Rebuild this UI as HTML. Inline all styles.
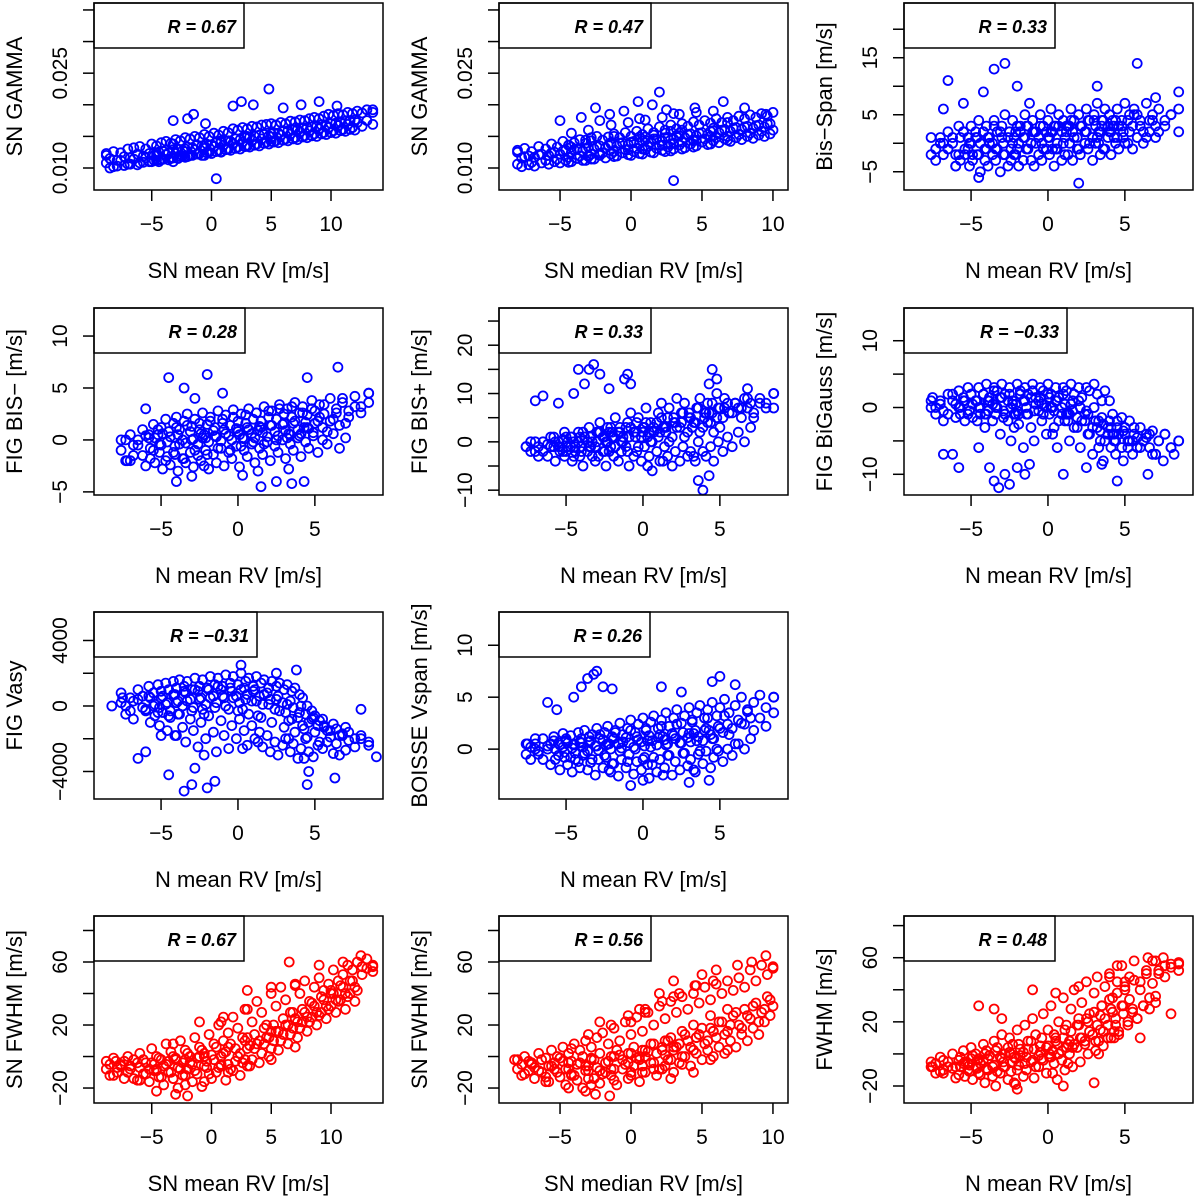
<!DOCTYPE html>
<html><head><meta charset="utf-8">
<style>
html,body{margin:0;padding:0;background:#fff;}
svg{display:block;font-family:"Liberation Sans",Arial,sans-serif;}
</style></head>
<body>
<svg id="fig" width="1200" height="1201" viewBox="0 0 1200 1201" xmlns="http://www.w3.org/2000/svg"></svg>
<script>
// ---- shared x samples ----
const snMeanX = [-8.8,-8.2,-7.6,-7.0,-6.5,-6.0,-5.5,-5.0,-4.6,-4.2,-3.8,-3.4,-3.0,-2.6,-2.2,-1.8,-1.4,-1.0,-0.6,-0.2,0.2,0.6,1.0,1.4,1.8,2.2,2.6,3.0,3.4,3.8,4.2,4.6,5.0,5.4,5.8,6.2,6.6,7.0,7.4,7.8,8.2,8.6,9.0,9.4,9.8,10.2,10.6,11.0,11.4,11.8,12.2,12.6,13.0,13.5,-3.2,0.8,2.8];
const snMeanX2 = [-8.5,-7.9,-7.3,-6.8,-6.2,-5.7,-5.2,-4.8,-4.4,-4.0,-3.6,-3.2,-2.8,-2.4,-2.0,-1.6,-1.2,-0.8,-0.4,0.0,0.4,0.8,1.2,1.6,2.0,2.4,2.8,3.2,3.6,4.0,4.4,4.8,5.2,5.6,6.0,6.4,6.8,7.2,7.6,8.0,8.4,8.8,9.2,9.6,10.0,10.4,10.8,11.2,11.6,12.0,-4.6,-2.2,-0.6,1.4,3.0,5.0,7.0];
const snMedX = [-8.0,-7.5,-7.0,-6.5,-6.0,-5.6,-5.2,-4.8,-4.4,-4.0,-3.6,-3.2,-2.8,-2.4,-2.0,-1.6,-1.2,-0.8,-0.4,0.0,0.4,0.8,1.2,1.6,2.0,2.4,2.8,3.2,3.6,4.0,4.4,4.8,5.2,5.6,6.0,6.4,6.8,7.2,7.6,8.0,8.4,8.8,9.2,9.6,10.0,-4.2,-3.0,-1.4,-0.2,1.0,2.2,3.4,4.6,5.8,-2.2,0.6,3.0];
const snMedX2 = [-7.7,-7.2,-6.8,-6.3,-5.8,-5.4,-5.0,-4.6,-4.2,-3.8,-3.4,-3.0,-2.6,-2.2,-1.8,-1.4,-1.0,-0.6,-0.2,0.2,0.6,1.0,1.4,1.8,2.2,2.6,3.0,3.4,3.8,4.2,4.6,5.0,5.4,5.8,6.2,6.6,7.0,7.4,7.8,8.2,8.6,9.0,9.4,9.8,-4.4,-3.2,-1.2,0.0,1.6,2.8,3.6,4.4,5.6,6.8,-2.8,0.8,2.4];
const nMeanX = [-7.6,-7.0,-6.5,-6.2,-5.8,-5.5,-5.2,-5.0,-4.7,-4.5,-4.2,-4.0,-3.8,-3.5,-3.3,-3.0,-2.8,-2.5,-2.3,-2.0,-1.8,-1.5,-1.3,-1.0,-0.8,-0.5,-0.3,0.0,0.2,0.5,0.7,1.0,1.2,1.5,1.7,2.0,2.2,2.5,2.7,3.0,3.2,3.5,3.7,4.0,4.2,4.5,4.8,5.0,5.3,5.6,6.0,6.4,6.8,7.2,7.6,8.0,8.5];
const nMeanX2 = [-7.3,-6.8,-6.0,-5.7,-5.4,-5.1,-4.9,-4.6,-4.4,-4.1,-3.9,-3.6,-3.4,-3.1,-2.9,-2.6,-2.4,-2.1,-1.9,-1.6,-1.4,-1.1,-0.9,-0.6,-0.4,-0.1,0.1,0.4,0.6,0.9,1.1,1.4,1.6,1.9,2.1,2.4,2.6,2.9,3.1,3.4,3.6,3.9,4.1,4.4,4.6,4.9,5.2,5.5,5.8,6.2,6.6,7.0,-2.2,0.3,1.3,3.3,4.3];

// ---- panel 1: SN GAMMA (x1e-3) vs SN mean RV ----
const p1A = [12.3,12.6,12.4,13.0,13.2,13.4,13.0,13.8,13.5,14.0,14.2,13.9,14.5,14.3,14.8,14.6,15.0,14.8,15.3,15.0,15.5,15.2,15.8,15.6,16.2,16.0,16.4,16.2,16.6,16.5,16.8,16.9,17.0,16.8,17.2,17.0,17.4,17.3,17.6,17.5,17.8,18.0,17.8,18.2,18.5,18.3,18.6,18.4,18.8,18.6,19.0,18.7,19.2,18.8,13.8,14.3,15.0];
const p1B = [10.0,10.3,10.4,10.6,10.5,10.9,11.0,11.2,11.0,11.4,11.3,11.6,11.5,11.9,11.8,12.0,12.2,12.0,12.4,12.3,12.6,12.5,12.9,12.8,13.1,13.0,13.4,13.3,13.6,13.5,13.9,13.8,14.1,14.0,14.4,14.3,14.6,14.5,14.9,14.8,15.1,15.0,15.4,15.3,15.6,15.5,15.9,15.8,16.1,16.0,11.2,11.7,12.0,13.0,13.5,14.2,14.8];
const p1C = [11.5,11.2,11.8,11.6,12.2,11.9,12.3,12.0,12.5,12.6,12.4,12.9,13.0,12.8,13.3,13.2,13.6,13.5,13.8,13.7,14.0,14.1,14.3,14.2,14.6,14.5,14.8,14.9,15.0,15.2,15.3,15.1,15.6,15.5,15.8,15.9,16.0,16.1,16.3,16.4,16.5,16.6,16.8,16.7,17.0,17.1,17.2,17.4,17.5,17.6,12.4,13.0,13.5,14.3,15.0,15.4,16.3];
const p1D = [10.8,10.2,11.2,10.6,11.4,10.8,11.6,11.0,11.9,11.3,12.1,11.5,12.3,11.8,12.6,12.0,12.9,12.3,13.1,12.5,13.4,12.8,13.6,13.0,13.9,13.3,14.1,13.6,14.4,13.8,14.6,14.1,14.9,14.3,15.2,14.6,15.4,14.8,15.7,15.1,15.9,15.4,16.2,15.6,16.4,15.9,16.7,16.1,16.9,16.4,17.2,16.6,17.5,16.9,11.0,12.6,13.4];
const p1OX = [2.5,4.8,-1.5,0.4,-3.2,3.5,1.8,-2.0,7.5,6.0,9.0,10.5,13.5,-8.8,-0.5];
const p1OY = [20.5,22.5,18.5,8.3,17.5,20.0,19.8,17.8,20.0,19.5,20.5,19.8,19.2,12.0,17.0];

// ---- panel 2: SN GAMMA vs SN median RV ----
const p2A = [12.8,13.1,12.6,13.4,13.0,13.8,13.3,14.2,13.6,14.0,14.5,13.9,14.3,15.0,14.4,14.9,15.4,14.8,15.6,15.0,15.8,15.3,16.2,15.6,16.5,16.0,16.8,16.2,17.0,16.6,17.3,16.8,17.5,17.1,17.8,17.2,18.0,17.5,18.2,17.8,18.4,18.0,18.6,18.2,18.8,15.5,16.0,16.8,17.2,17.6,18.0,18.5,18.8,19.0,17.5,17.8,18.6];
const p2B = [10.2,10.5,10.3,10.8,10.6,11.0,10.8,11.2,11.0,11.5,11.2,11.8,11.4,12.0,11.6,12.2,11.9,12.4,12.1,12.6,12.3,12.9,12.5,13.1,12.8,13.3,13.0,13.6,13.2,13.8,13.5,14.1,13.7,14.3,14.0,14.6,14.2,14.8,14.5,15.0,14.7,15.2,15.0,15.4,10.9,11.2,11.8,12.0,12.4,12.7,13.0,13.3,13.8,14.4,11.4,12.2,12.6];
const p2C = [11.6,11.9,11.7,12.2,12.0,12.5,12.2,12.8,12.5,13.0,12.7,13.3,13.0,13.5,13.2,13.8,13.5,14.0,13.7,14.2,13.9,14.4,14.1,14.6,14.3,14.9,14.6,15.1,14.8,15.4,15.1,15.6,15.3,15.9,15.6,16.1,15.8,16.4,16.1,16.6,16.3,16.8,16.5,17.0,13.6,14.4,15.0,14.0,15.2,15.8,16.0,14.5,15.0,17.2,14.8,13.0,15.5];
const p2D = [10.6,11.8,10.9,12.1,11.2,12.4,11.4,12.7,11.7,12.9,11.9,13.1,12.2,13.4,12.4,13.6,12.6,13.9,12.9,14.1,13.1,14.3,13.4,14.6,13.6,14.8,13.8,15.1,14.1,15.3,14.3,15.5,14.6,15.8,14.8,16.0,15.0,16.3,15.3,16.5,15.5,16.7,15.8,17.0,16.0,13.3,12.0,14.0,12.9,14.9,13.6,15.5,14.4,16.3,12.3,14.9,13.9];
const p2OX = [2.0,-1.5,-2.5,3.0,1.5,-0.5,-5.0,9.5,8.0,6.5,-8.0,4.5,-3.5,0.5,2.5];
const p2OY = [22.0,18.5,19.5,8.0,20.0,19.0,17.5,18.5,19.5,20.5,12.5,19.5,18.0,20.5,19.2];

// ---- panel 3: Bis-Span vs N mean RV ----
const p3A = [1,0,2,1,3,2,1,3,2,4,2,3,1,4,2,3,5,2,4,3,2,5,3,4,2,5,3,4,6,3,5,4,3,6,4,5,3,6,4,5,7,4,6,5,3,6,4,7,5,6,4,7,5,6,4,5,6];
const p3B = [-3,-2,-4,-3,-2,-4,-3,-2,-5,-3,-4,-2,-3,-5,-2,-4,-3,-2,-4,-3,-1,-3,-4,-2,-3,-1,-2,-4,-1,-3,-2,0,-3,-1,-2,0,-1,-3,0,-2,-1,1,-2,0,-1,1,0,-1,1,0,2,1,-2,-1,-2,0,1];
const p3C = [-1,0,-2,1,-1,0,-2,1,0,-1,1,0,-1,2,0,1,-1,2,0,1,3,0,2,1,0,2,1,3,0,2,1,3,2,1,3,2,4,1,3,2,4,3,2,4,3,2,4,3,5,2,4,3,1,2,3,2,3];
const p3D = [-2,1,-1,0,-2,2,-1,0,1,-2,2,-1,0,3,-1,1,-2,2,0,-1,3,1,-1,2,0,3,-1,1,2,-1,3,0,2,4,1,-1,3,2,0,4,1,3,-1,2,4,1,3,0,2,5,3,1,4,2,3,5,2];
const p3OX = [-6.5,-5.5,-3.5,-2.8,-4.2,-1.2,5.8,3.2,-6.8,-4.5,-6.0,-2.0,2.0,7.0,8.5];
const p3OY = [11,7,13,14,9,7,14,10,6,-6,-4,10,-7,8,9];

// ---- panel 4: FIG BIS- ----
const p4A = [0,0.5,-0.5,1,0.2,1.5,0.5,1.2,2,0.8,1.6,2.2,1,1.8,2.5,1.3,2,1,2.6,1.5,2.2,1.2,2.8,1.6,2.4,1.4,2.9,1.8,2.5,1.6,3,2,2.6,1.8,3.2,2.2,2.8,2,3.4,2.5,3,2.2,3.6,2.6,3.2,2.4,3.8,2.8,3.4,2.5,4,3,3.6,2.8,4.2,3.2,4.5];
const p4B = [-2,-1.5,-2.5,-1.8,-2.2,-1.2,-2.8,-1.6,-2.4,-1.4,-3,-1.8,-2.2,-1.2,-2.6,-1.5,-2,-1,-2.8,-1.4,-2.2,-0.8,-2.5,-1.2,-1.8,-0.6,-2.6,-1,-1.6,-0.4,-2.2,-0.8,-1.4,-0.2,-2,-0.6,-1.2,0,-1.8,-0.4,-1,0.2,-1.6,-0.2,-0.8,0.4,-1.2,0,-0.4,0.6,-0.8,0.2,-2.5,-3.4,-3,-2.8,-4];
const p4C = [0,-0.5,0.4,-0.8,0.2,-0.4,0.6,-0.2,0.3,-0.6,0.5,0,-0.3,0.8,0.1,-0.4,0.6,0.2,-0.2,0.9,0.3,-0.1,1,0.4,0,1.1,0.5,0.1,1.2,0.6,0.2,1.3,0.7,0.3,1.4,0.8,0.4,1.5,0.9,0.5,1.6,1,0.6,1.7,1.1,0.7,1.8,1.2,0.8,2,1.4,1.6,0.5,0.2,0.9,0.6,1.2];
const p4D = [-1,-2,0,-1.5,0.5,-1,1,-0.5,-2,0.8,-1.2,1.2,-0.4,-1.8,1.4,0,-1,1.6,0.2,-1.4,1.8,0.4,-0.8,2,0.6,-1,2.2,0.8,-0.6,2.4,1,-0.2,2.6,1.2,-0.4,2.8,1.4,0,3,1.6,0.2,3.2,1.8,0.4,2.6,1.2,3,1.6,2.2,3.4,1.8,2.6,4,2.2,3.2,2.6,3.6];
const p4OX = [-4.5,-3.5,-2,-1,-3,-6,-7.2,2.5,4.5,6.5,8.5,-4,1.5,3.5,-2.8];
const p4OY = [6,5,6.3,4.5,-3.5,3,-2,-4,6,7,4.5,-4,-4.5,-4.2,4];

// ---- panel 5: FIG BIS+ ----
const p5A = [-1,0,-2,-0.5,1,-1,0.5,-2,1,0,2,-1,1,3,0,2,4,1,3,2,5,3,1,4,6,2,5,3,7,4,2,6,8,3,7,5,9,4,8,6,3,7,9,5,8,6,10,7,9,6,8,7,9,5,8,7,10];
const p5B = [-2,-3,-1,-4,-2,-3,-1,-4,-2,-3,-5,-2,-1,-4,-3,-2,-5,-1,-3,-4,-2,-1,-5,-3,-2,-4,-1,-3,-6,-2,-4,-1,-3,-5,-2,-4,-1,-3,-2,-4,0,-2,-3,-1,-4,0,-2,1,-1,2,0,3,-2,-5,-4,-3,-7];
const p5C = [0,-1,1,0,-1,2,0,1,-1,1,2,0,1,-1,2,1,0,3,1,2,0,3,1,2,4,1,3,2,0,4,2,3,5,1,4,3,6,2,5,4,7,3,6,4,2,7,5,8,6,7,9,8,2,1,3,4,6];
const p5D = [-1,-2,0,-3,-1,0,-2,1,-1,-3,0,-2,1,-1,-3,0,2,-2,0,1,-1,2,0,-2,3,1,-1,2,4,0,3,1,5,2,0,4,3,6,1,5,3,7,2,6,4,8,5,3,7,6,8,5,7,6,9,8,7];
const p5OX = [-3.5,-3.2,-2.8,-4.2,-3.8,-1.2,-1,-0.8,-2.2,4.5,4.3,4.8,-7,-6.5,6.8,8.5,3.6,3.9,-5.5,-4.5];
const p5OY = [15,16,14,15,12,13,14,12,11,15,12,13,8.5,9.5,11,10,-8,-10,8,10];

// ---- panel 6: FIG BiGauss ----
const p6A = [1,0.5,2,1,2.5,1.5,3,2,1,3,2,3.5,1.5,3,2.5,3.5,2,3,1,3.5,2.5,3,2,3.5,1.5,3,2.5,3.5,2,3,1.5,3,2.5,3.5,2,3,1.5,3,2.5,3.5,2,1,2.5,1,-1,-2,-1.5,-3,-2,-4,-3,-4.5,-3.5,-5,-4,-6,-5];
const p6B = [-1,-2,-1.5,-1,-2,-0.5,-1.5,-2,-1,-3,-0.5,-2,-1,-4,-1.5,-2,-5,-1,-2.5,-6,-1,-3,-5,-0.5,-2,-4,-1,-3,-6,-1,-2,-5,-0.5,-3,-6,-1,-4,-7,-2,-5,-8,-3,-6,-7,-4,-8,-5,-7,-6,-5,-4,-7,-3,-4,-2,-6,-5];
const p6C = [0,-0.5,0.5,0,1,-0.5,0.5,1,0,-1,1,0.5,0,1.5,-0.5,1,0,0.5,-1,1,0,1.5,-0.5,1,0.5,0,1.5,-0.5,1,0,0.5,-1,1,-1.5,0,-2,-1,-3,-2,-3.5,-2.5,-4,-3,-5,-4,-3.5,-6,-5,-4.5,-5,-6,-7,-1,0,-1,-2,-4];
const p6D = [0,1,-1,2,0,1,-1,2,1,0,2,-1,1,2.5,0,1.5,-1,2,0.5,-0.5,2,1,-1,2.5,0.5,1.5,-1,2,0,1,-2,2,-1,0.5,-3,1,-2,-0.5,-4,0,-3,-1.5,-5,-2,-4,-3,-6,-4,-5,-3,-6,-4,-7,-5,-4,-6,-5];
const p6OX = [-3.5,-3.2,-2.8,-2.5,-2,-1.5,-1.2,-6.2,-5.8,-6.8,-7.5,-4.5,1,2.5,3.5,4.5,6.5,7.5,8.2,-3.8];
const p6OY = [-11,-12,-10,-11.5,-9,-10,-8.5,-7,-9,-7,1.5,-6,-10,-9,-8.5,-11,-10,-8,-7,-9];

// ---- panel 7: FIG Vasy ----
const p7A = [800,500,1000,600,1200,800,1300,900,1400,1000,1500,1100,1600,1200,1500,1000,1700,1200,1600,1100,1800,1300,1700,1200,1900,1400,1800,1300,2000,1500,1700,1200,1800,1400,1600,1100,1500,1200,1400,1000,1300,900,1100,700,500,0,-300,-600,-900,-1200,-1500,-1400,-1800,-1600,-2000,-1800,-2400];
const p7B = [-500,-800,-300,-1000,-600,-1200,-400,-1500,-700,-1800,-500,-1300,-2200,-800,-1500,-2500,-1000,-2000,-600,-1600,-2800,-900,-1800,-2600,-1200,-2000,-800,-1500,-2400,-1200,-2000,-1600,-2500,-1800,-2800,-2200,-3000,-2400,-2000,-2800,-2300,-3200,-2600,-2000,-2800,-3100,-2400,-2600,-2200,-2900,-3000,-2700,-3000,-2600,-2200,-2000,-3200];
const p7C = [0,300,-200,500,100,-100,600,200,-300,700,300,0,800,400,-100,900,500,100,1000,600,200,1000,500,-200,900,600,200,1100,700,300,1000,600,100,800,400,-200,600,200,-400,300,-100,-700,0,-500,-1000,-700,-1200,-800,-1500,-1100,-1800,-1300,-500,-200,-600,-900,-1400];
const p7D = [200,-300,400,-100,600,0,-400,500,100,-600,700,200,-500,900,300,-300,1000,400,-200,1100,500,-100,1200,600,0,1100,500,-300,1000,400,-500,900,300,-700,700,100,-1000,400,-300,-1300,100,-800,-1600,-400,-1200,-1900,-800,-1600,-2200,-1300,-1900,-2300,-1700,-2100,-2500,-2000,-2200];
const p7OX = [-3.5,-4.5,-3,-2,-2.8,-1.5,-6,-6.5,-5,-4,4.5,4.6,6.3,8.0,9.0,0.2,2.5,-7.5,-8.2,3.8];
const p7OY = [-5200,-4200,-4800,-5000,-3800,-4600,-2800,-3200,-1800,-1800,-4800,-4000,-4400,-200,-3100,2500,2000,500,0,2200];

// ---- panel 8: BOISSE Vspan ----
const p8A = [0.5,0,1,0.3,1.2,0.6,1.5,0.8,1.3,0.5,1.6,1,1.8,0.7,1.4,2,1,1.6,2.2,1.2,1.8,2.5,1.4,2,2.8,1.6,2.4,3,1.8,2.6,3.2,2,2.8,3.5,2.2,3,3.8,2.5,3.2,4,2.8,3.5,4.2,3,3.8,4.5,3.2,4,4.8,3.5,4.2,5,3.8,4.5,5.2,4,5];
const p8B = [-1,-0.5,-1.5,-1,-2,-0.8,-1.5,-2.2,-1,-1.8,-0.6,-2,-1.3,-2.5,-1,-1.8,-0.8,-2.2,-1.4,-2.6,-1,-1.8,-0.5,-2.4,-1.2,-2,-0.8,-2.8,-1.5,-2.2,-1,-1.8,-0.6,-2.5,-1.2,-2,-0.4,-1.6,-1,-2.2,-0.5,-1.4,-0.2,-1.8,-0.8,-0.2,-1.2,0,-0.6,0.5,0,1,-2,-1.5,-2.5,-2,-3];
const p8C = [0.2,-0.2,0.5,0,0.4,-0.3,0.6,0.1,-0.4,0.7,0.2,-0.2,0.8,0.3,-0.1,0.9,0.4,0,1,0.5,0.1,1.1,0.6,0.2,1.2,0.7,0.3,1.3,0.8,0.4,1.4,0.9,0.5,1.5,1,0.6,1.6,1.1,0.7,1.8,1.2,0.8,2,1.4,1,2.2,1.6,2.4,2,2.8,2.4,3,0.5,0.8,1.2,1.5,1.8];
const p8D = [-0.5,0.5,-1,0,0.8,-0.6,0.2,1,-0.8,0.4,-1.2,0.6,-0.4,1.2,-1,0.3,1.4,-0.6,0.5,-1.4,1.6,-0.2,0.7,-1.2,1.8,0,0.9,-1,2,0.2,-0.8,1.1,2.2,0.4,-0.6,1.3,2.4,0.6,-0.4,1.5,2.6,0.8,-0.2,1.8,3,1,0,2,3.2,1.4,0.5,2.5,3.6,1.8,3,2.2,3.5];
const p8OX = [-4.5,-4,-3.6,-3.2,-3,-2.6,-6.2,-5.6,-7,-7.5,4.5,5,6,8.5,-0.8,1.2,2.5,-2,0,3];
const p8OY = [5,6,6.8,7.2,7.5,6,4.5,3.8,1,0.5,6.5,7,6.2,5,-3.5,6,5.5,5.8,-3,-3.2];

// ---- panel 10: SN FWHM vs SN mean RV ----
const p10A = [-3,-1,-5,0,-2,2,-4,5,0,-2,8,3,-1,10,4,0,12,6,2,14,8,20,10,15,25,18,12,30,22,35,28,20,40,32,44,36,28,45,40,48,35,44,50,42,46,55,48,52,58,55,60,57,62,58,8,22,30];
const p10B = [-12,-10,-14,-8,-15,-11,-16,-9,-13,-18,-10,-14,-20,-12,-8,-16,-11,-19,-7,-14,-10,-5,-15,-8,-3,-12,-2,-6,5,-4,8,0,10,4,14,8,18,12,22,16,25,20,28,24,32,28,36,30,40,35,-22,-18,-16,-10,-6,-2,6];
const p10C = [-5,-7,-3,-6,-4,-2,-8,-5,-1,-6,-3,0,-7,-4,2,-5,-1,4,-3,1,6,0,3,8,5,2,10,7,14,10,18,12,20,16,24,20,28,22,30,25,34,28,38,32,42,36,45,40,48,44,-8,-2,0,6,12,16,24];
const p10D = [-8,-12,-6,-10,-14,-7,-11,-4,-9,-13,-5,-10,-2,-8,-12,-4,-9,0,-6,-11,-2,-7,2,-5,-9,0,-4,5,-2,8,2,12,5,16,10,20,14,24,18,28,22,32,26,36,30,40,35,44,38,48,42,52,56,54,-14,-6,-2];
const p10OX = [-2,-3,-6,1,5,7,9,11,12.5,13.5,-8,3,6.5,10,-1];
const p10OY = [-25,-24,-15,25,44,46,58,60,64,57,-3,42,60,40,22];

// ---- panel 11: SN FWHM vs SN median RV ----
const p11A = [-2,0,-4,2,-1,4,0,6,2,8,4,10,6,12,15,8,18,10,22,14,25,16,28,20,32,24,35,28,38,30,40,34,44,36,46,40,48,42,50,44,55,48,58,52,56,5,14,20,26,30,35,40,45,48,22,30,38];
const p11B = [-12,-9,-14,-10,-16,-8,-13,-18,-11,-15,-20,-9,-14,-17,-10,-12,-18,-8,-14,-6,-16,-10,-4,-12,-8,-2,-10,-4,0,-6,2,-2,4,0,6,2,10,6,14,10,18,14,22,26,-20,-22,-15,-12,-8,-14,-5,-10,-2,4,-18,-10,-6];
const p11C = [-5,-3,-7,-2,-6,-4,-1,-8,-3,-5,0,-6,-2,2,-4,0,4,-2,2,6,0,4,8,2,6,10,4,8,14,6,12,18,10,16,22,14,20,28,18,26,32,22,30,36,-4,-6,0,2,8,12,16,20,26,30,-2,4,10];
const p11D = [-8,-11,-5,-9,-13,-6,-10,-3,-8,-12,-4,-9,-1,-7,-11,-3,-8,1,-5,-10,-1,-6,3,-4,-8,1,-2,6,0,10,4,14,8,18,12,22,16,26,20,30,24,34,28,38,32,-12,-14,-8,-4,0,4,8,12,16,-9,-2,6];
const p11OX = [-2.5,-1.5,-6,1,3,4.5,6,7.5,8.5,9.5,10,-8.2,2,5,0];
const p11OY = [-24,-25,-16,28,48,45,55,58,60,64,57,-2,40,52,22];

// ---- panel 12: FWHM vs N mean RV ----
const p12A = [-5,-2,-8,0,-4,2,-6,4,0,-3,6,2,-1,8,4,12,0,10,6,15,3,18,8,22,12,5,25,15,30,10,20,35,18,28,40,22,32,45,25,38,48,30,42,50,35,45,55,40,48,58,45,52,58,50,55,54,57];
const p12B = [-12,-10,-15,-8,-14,-11,-16,-9,-13,-18,-10,-14,-20,-12,-8,-16,-11,-19,-7,-14,-10,-5,-15,-8,-3,-12,-2,-6,-16,-4,-10,0,-8,4,-5,8,0,12,2,15,5,18,10,22,14,25,18,28,22,30,35,32,-18,-12,-6,0,10];
const p12C = [-6,-4,-8,-2,-5,-7,-1,-4,-6,0,-3,-8,2,-2,-5,4,0,-3,6,1,-2,8,3,-1,10,4,0,12,6,2,15,8,4,18,10,6,20,12,8,24,14,10,28,18,12,30,20,26,22,30,28,36,-2,2,6,8,14];
const p12D = [-8,-11,-5,-9,-13,-6,-10,-3,-8,-12,-4,-9,-1,-7,-11,-3,-8,1,-5,-10,-1,-6,3,-4,-8,1,-4,5,-2,8,0,10,4,14,6,18,10,22,14,26,18,30,22,34,26,38,30,42,34,46,40,50,44,52,48,56,52];
const p12OX = [-7.5,-6.8,-4.5,-3.5,-2,1,3,4,5,6.5,7,7.5,8.5,-1,0.5,2,4.5,-3,6,8];
const p12OY = [-8,-12,30,28,-22,-20,-18,48,45,60,58,60,56,40,38,42,55,22,10,25];

// ---- tick arrays ----
const snMeanTicks = [-5,0,5,10];
const snMeanTickLabels = ["\u22125","0","5","10"];
const snMedTicks = [-5,0,5,10];
const snMedTickLabels = ["\u22125","0","5","10"];
const nMeanTicks = [-5,0,5];
const nMeanTickLabels = ["\u22125","0","5"];
const gammaTicks = [10,15,20,25,30,35];
const gammaTickLabels = ["0.010","","","0.025","",""];
const bisSpanTicks = [-5,0,5,10,15,20];
const bisSpanTickLabels = ["\u22125","","5","","15",""];
const bisMinusTicks = [-5,0,5,10];
const bisMinusTickLabels = ["\u22125","0","5","10"];
const bisPlusTicks = [-10,-5,0,5,10,15,20,25];
const bisPlusTickLabels = ["\u221210","","0","","10","","20",""];
const biGaussTicks = [-10,-5,0,5,10];
const biGaussTickLabels = ["\u221210","","0","","10"];
const vasyTicks = [-4000,-2000,0,2000,4000];
const vasyTickLabels = ["\u22124000","","0","","4000"];
const vspanTicks = [0,5,10];
const vspanTickLabels = ["0","5","10"];
const fwhmTicks = [-20,0,20,40,60,80];
const fwhmTickLabels = ["\u221220","","20","","60",""];
const corrLabels = ["R = 0.67","R = 0.47","R = 0.33","R = 0.28","R = 0.33","R = \u22120.33","R = \u22120.31","R = 0.26","R = 0.67","R = 0.56","R = 0.48"];

const NS = "http://www.w3.org/2000/svg";
const svg = document.getElementById("fig");
const W = 289, H = 187;
const BLUE = "#0000ff", RED = "#ff0000";

const panels = [
 {name:"sn-gamma-vs-sn-mean", L:94, T:3, xd:[-9.83,14.35], yd:[6.52,36.1], xt:snMeanTicks, xl:snMeanTickLabels, yt:gammaTicks, yl:gammaTickLabels, xTitle:"SN mean RV [m/s]", yTitle:"SN GAMMA", leg:0, lw:150, col:BLUE,
  layers:[[snMeanX,p1A],[snMeanX2,p1B],[snMeanX2,p1C],[snMeanX,p1D],[p1OX,p1OY]]},
 {name:"sn-gamma-vs-sn-median", L:499, T:3, xd:[-9.3,11.06], yd:[6.52,36.1], xt:snMedTicks, xl:snMedTickLabels, yt:gammaTicks, yl:gammaTickLabels, xTitle:"SN median RV [m/s]", yTitle:"SN GAMMA", leg:1, lw:152, col:BLUE,
  layers:[[snMedX,p2A],[snMedX2,p2B],[snMedX2,p2C],[snMedX,p2D],[p2OX,p2OY]]},
 {name:"bis-span-vs-n-mean", L:904, T:3, xd:[-9.36,9.43], yd:[-8.2,24.6], xt:nMeanTicks, xl:nMeanTickLabels, yt:bisSpanTicks, yl:bisSpanTickLabels, xTitle:"N mean RV [m/s]", yTitle:"Bis\u2212Span [m/s]", leg:2, lw:151, col:BLUE,
  layers:[[nMeanX,p3A],[nMeanX2,p3B],[nMeanX2,p3C],[nMeanX,p3D],[p3OX,p3OY]]},
 {name:"fig-bis-minus-vs-n-mean", L:94, T:308, xd:[-9.36,9.43], yd:[-5.3,12.7], xt:nMeanTicks, xl:nMeanTickLabels, yt:bisMinusTicks, yl:bisMinusTickLabels, xTitle:"N mean RV [m/s]", yTitle:"FIG BIS\u2212 [m/s]", leg:3, lw:151, col:BLUE,
  layers:[[nMeanX,p4A],[nMeanX2,p4B],[nMeanX2,p4C],[nMeanX,p4D],[p4OX,p4OY]]},
 {name:"fig-bis-plus-vs-n-mean", L:499, T:308, xd:[-9.36,9.43], yd:[-11.0,27.7], xt:nMeanTicks, xl:nMeanTickLabels, yt:bisPlusTicks, yl:bisPlusTickLabels, xTitle:"N mean RV [m/s]", yTitle:"FIG BIS+ [m/s]", leg:4, lw:152, col:BLUE,
  layers:[[nMeanX,p5A],[nMeanX2,p5B],[nMeanX2,p5C],[nMeanX,p5D],[p5OX,p5OY]]},
 {name:"fig-bigauss-vs-n-mean", L:904, T:308, xd:[-9.36,9.43], yd:[-13.1,14.9], xt:nMeanTicks, xl:nMeanTickLabels, yt:biGaussTicks, yl:biGaussTickLabels, xTitle:"N mean RV [m/s]", yTitle:"FIG BiGauss [m/s]", leg:5, lw:163, col:BLUE,
  layers:[[nMeanX,p6A],[nMeanX2,p6B],[nMeanX2,p6C],[nMeanX,p6D],[p6OX,p6OY]]},
 {name:"fig-vasy-vs-n-mean", L:94, T:612, xd:[-9.36,9.43], yd:[-5680,5740], xt:nMeanTicks, xl:nMeanTickLabels, yt:vasyTicks, yl:vasyTickLabels, xTitle:"N mean RV [m/s]", yTitle:"FIG Vasy", leg:6, lw:163, col:BLUE,
  layers:[[nMeanX,p7A],[nMeanX2,p7B],[nMeanX2,p7C],[nMeanX,p7D],[p7OX,p7OY]]},
 {name:"boisse-vspan-vs-n-mean", L:499, T:612, xd:[-9.36,9.43], yd:[-4.8,13.2], xt:nMeanTicks, xl:nMeanTickLabels, yt:vspanTicks, yl:vspanTickLabels, xTitle:"N mean RV [m/s]", yTitle:"BOISSE Vspan [m/s]", leg:7, lw:151, col:BLUE,
  layers:[[nMeanX,p8A],[nMeanX2,p8B],[nMeanX2,p8C],[nMeanX,p8D],[p8OX,p8OY]]},
 {name:"sn-fwhm-vs-sn-mean", L:94, T:916, xd:[-9.83,14.35], yd:[-29.5,89.2], xt:snMeanTicks, xl:snMeanTickLabels, yt:fwhmTicks, yl:fwhmTickLabels, xTitle:"SN mean RV [m/s]", yTitle:"SN FWHM [m/s]", leg:8, lw:150, col:RED,
  layers:[[snMeanX,p10A],[snMeanX2,p10B],[snMeanX2,p10C],[snMeanX,p10D],[p10OX,p10OY]]},
 {name:"sn-fwhm-vs-sn-median", L:499, T:916, xd:[-9.3,11.06], yd:[-29.5,89.2], xt:snMedTicks, xl:snMedTickLabels, yt:fwhmTicks, yl:fwhmTickLabels, xTitle:"SN median RV [m/s]", yTitle:"SN FWHM [m/s]", leg:9, lw:152, col:RED,
  layers:[[snMedX,p11A],[snMedX2,p11B],[snMedX2,p11C],[snMedX,p11D],[p11OX,p11OY]]},
 {name:"fwhm-vs-n-mean", L:904, T:916, xd:[-9.36,9.43], yd:[-30.6,86], xt:nMeanTicks, xl:nMeanTickLabels, yt:fwhmTicks, yl:fwhmTickLabels, xTitle:"N mean RV [m/s]", yTitle:"FWHM [m/s]", leg:10, lw:151, col:RED,
  layers:[[nMeanX,p12A],[nMeanX2,p12B],[nMeanX2,p12C],[nMeanX,p12D],[p12OX,p12OY]]}
];

function mk(tag, attrs, parent){
  const e = document.createElementNS(NS, tag);
  for (const k in attrs) e.setAttribute(k, attrs[k]);
  (parent||svg).appendChild(e);
  return e;
}

panels.forEach(p => {
  const g = mk("g", {});
  
  
  const sx = v => p.L + (v - p.xd[0]) / (p.xd[1] - p.xd[0]) * W;
  const sy = v => p.T + H - (v - p.yd[0]) / (p.yd[1] - p.yd[0]) * H;
  const B = p.T + H;

  const pg = mk("g", {fill:"none", stroke:p.col, "stroke-width":"1.8"}, g);
  
  
  p.layers.forEach(([xs, ys]) => {
    for (let i = 0; i < ys.length && i < xs.length; i++) {
      const c = mk("circle", {cx:sx(xs[i]).toFixed(1), cy:sy(ys[i]).toFixed(1), r:"4.5"}, pg);
      
      
    }
  });

  const lg = mk("g", {}, g);
  
  
  mk("rect", {x:p.L, y:p.T, width:p.lw, height:45, fill:"#fff", stroke:"#000", "stroke-width":"1.5"}, lg);
  const lt = mk("text", {x:p.L + p.lw - 8, y:p.T + 30, "text-anchor":"end", "font-size":"18", "font-weight":"bold", "font-style":"italic", fill:"#000"}, lg);
  lt.textContent = corrLabels[p.leg];

  const fr = mk("rect", {x:p.L, y:p.T, width:W, height:H, fill:"none", stroke:"#000", "stroke-width":"1.5"}, g);
  
  

  const xa = mk("g", {}, g);
  
  
  p.xt.forEach((v, i) => {
    const x = sx(v);
    mk("line", {x1:x, y1:B, x2:x, y2:B + 11, stroke:"#000", "stroke-width":"1.5"}, xa);
    const t = mk("text", {x:x, y:B + 41, "text-anchor":"middle", "font-size":"21", fill:"#000"}, xa);
    t.textContent = p.xl[i];
  });
  const xtt = mk("text", {x:p.L + W / 2, y:B + 88, "text-anchor":"middle", "font-size":"22", fill:"#000"}, g);
  
  
  xtt.textContent = p.xTitle;

  const ya = mk("g", {}, g);
  
  
  p.yt.forEach((v, i) => {
    const y = sy(v);
    if (y < p.T - 1 || y > B + 1) return;
    mk("line", {x1:p.L - 11, y1:y, x2:p.L, y2:y, stroke:"#000", "stroke-width":"1.5"}, ya);
    if (p.yl[i]) {
      const tx = p.L - 27;
      const t = mk("text", {x:tx, y:y, "text-anchor":"middle", "font-size":"21", fill:"#000", transform:"rotate(-90 " + tx + " " + y + ")"}, ya);
      t.textContent = p.yl[i];
    }
  });
  const yx = p.L - 72, yy = p.T + H / 2;
  const ytt = mk("text", {x:yx, y:yy, "text-anchor":"middle", "font-size":"22", fill:"#000", transform:"rotate(-90 " + yx + " " + yy + ")"}, g);
  
  
  ytt.textContent = p.yTitle;
});
</script>
</body></html>
